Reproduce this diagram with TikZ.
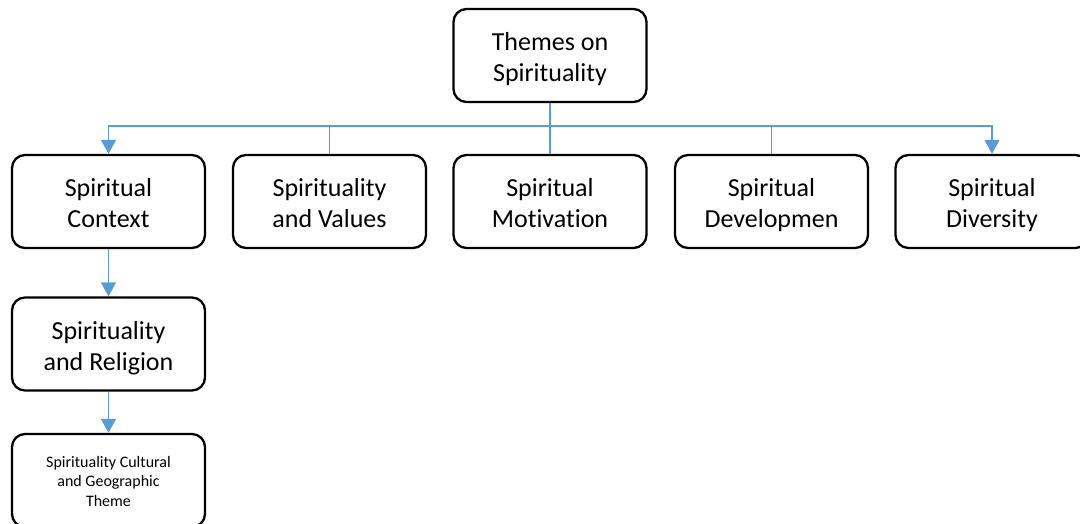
\documentclass[tikz,border=0pt]{standalone}
\usepackage{fontspec}
\setmainfont{Carlito}[RawFeature={-liga;-clig;-calt;-dlig}]
\usetikzlibrary{arrows.meta,%
                positioning,%
                calc
              }
\definecolor{linkblue}{HTML}{5B9BD5}
\def\setoftopics{108.5/ctx/{Spiritual\\Context}, 329.5/val/{Spirituality\\and Values},
  550/mot/{Spiritual\\Motivation}, 771.5/dev/{Spiritual\\Developmen},
  992/div/{Spiritual\\Diversity}}
\begin{document}
\begin{tikzpicture}[x=1pt,y=-1pt,
    every node/.style={rectangle,rounded corners=13pt,draw,line width=2.3pt,
      minimum width=193pt,minimum height=93pt,align=center,inner sep=2pt,
      text height=58pt,text depth=6pt,
      font=\fontsize{26}{31}\selectfont},
    link/.style={draw=linkblue,line width=1.5pt},
    tip/.style={-{Triangle[width=15pt,length=14pt]}}]

    \useasboundingbox (0,0) rectangle (1080,524);

    %% DRAW BOXES
    \node (root) at (550,55.5) {Themes on\\Spirituality};
    \foreach \x/\n/\t in \setoftopics {%
      \node (\n) at (\x,201.5) {\t};%
    }
    \node (rel) at (108.5,344) {Spirituality\\and Religion};
    \node[font=\fontsize{16}{19.5}\selectfont,text height=57pt,text depth=6pt]
      (geo) at (108.5,480.5) {Spirituality Cultural\\and Geographic\\Theme};

    %% DRAW LINKS
    \coordinate (bus) at (550,126);
    \draw[link] (root.south) -- (bus);
    \draw[link,tip] (bus) -| (ctx.north);
    \draw[link,tip] (bus) -| (div.north);
    \foreach \n in {val,mot,dev} {%
      \draw[link] (bus -| \n.north) -- (\n.north);%
    }
    \draw[link,tip] (ctx.south) -- (rel.north);
    \draw[link,tip] (rel.south) -- (geo.north);

  \end{tikzpicture}
\end{document}
